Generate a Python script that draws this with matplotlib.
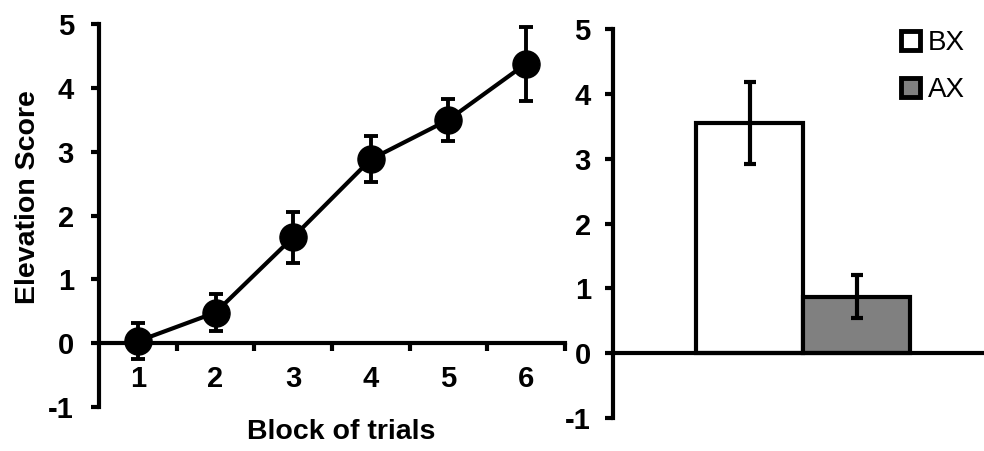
import matplotlib
matplotlib.use("Agg")
import matplotlib.pyplot as plt
from matplotlib.patches import Patch

# ---- data ----
blocks = [1, 2, 3, 4, 5, 6]
block_labels = ["1", "2", "3", "4", "5", "6"]
elev_mean = [0.03, 0.48, 1.66, 2.88, 3.50, 4.38]
elev_err = [0.28, 0.29, 0.40, 0.36, 0.33, 0.58]

bar_cats = ["BX", "AX"]
bar_mean = [3.55, 0.87]
bar_err = [0.63, 0.33]
bar_colors = ["#ffffff", "#808080"]

yticks = [-1, 0, 1, 2, 3, 4, 5]

W, H = 984, 451
fig = plt.figure(figsize=(W / 100, H / 100), dpi=100)
plt.rcParams['font.family'] = ['Liberation Sans', 'DejaVu Sans']

TICK_FS = 21
LABEL_FS = 20.5

def fx(px):
    return px / W

def fy(py):
    return 1 - py / H

# ---- left panel ----
l, r, t, b = 99, 565, 24, 407
ax1 = fig.add_axes([fx(l), fy(b), fx(r) - fx(l), fy(t) - fy(b)])
ax1.errorbar(blocks, elev_mean, yerr=elev_err, color='black', lw=3,
             marker='o', ms=19.5, elinewidth=2.8, capsize=5, capthick=2.8,
             clip_on=False, zorder=3)
ax1.set_xlim(0.5, 6.5)
ax1.set_ylim(-1, 5)
for s in ['top', 'right']:
    ax1.spines[s].set_visible(False)
ax1.spines['bottom'].set_position(('data', 0))
ax1.spines['left'].set_linewidth(3)
ax1.spines['bottom'].set_linewidth(3)
ax1.set_yticks(yticks)
ax1.set_yticklabels([str(v) for v in yticks], fontsize=TICK_FS, fontweight='bold')
ax1.tick_params(axis='y', length=6, width=3, pad=12)
ax1.set_xticks(blocks)
ax1.set_xticklabels(block_labels, fontsize=TICK_FS, fontweight='bold')
ax1.tick_params(axis='x', which='major', length=0, pad=16)
ax1.set_xticks([1.5, 2.5, 3.5, 4.5, 5.5, 6.5], minor=True)
ax1.tick_params(axis='x', which='minor', length=6, width=3, direction='out')
ax1.set_ylabel("Elevation Score", fontsize=LABEL_FS, fontweight='bold')
ax1.yaxis.set_label_coords(-0.153, 0.548)
ax1.set_xlabel("Block of trials", fontsize=LABEL_FS, fontweight='bold')
ax1.xaxis.set_label_coords(0.52, -0.065)
ax1.xaxis.label.set_va('center')
ax1.yaxis.label.set_va('center')

# ---- right panel ----
l2, r2, t2, b2 = 613, 984, 29, 418
ax2 = fig.add_axes([fx(l2), fy(b2), fx(r2) - fx(l2), fy(t2) - fy(b2)])
xpos = [0, 1]
ax2.bar(xpos, bar_mean, width=1.0, color=bar_colors, edgecolor='black',
        linewidth=3, zorder=2)
ax2.errorbar(xpos, bar_mean, yerr=bar_err, fmt='none', ecolor='black',
             elinewidth=3, capsize=4, capthick=3, zorder=3)
ax2.set_xlim(-1.28, 2.19)
ax2.set_ylim(-1, 5)
for s in ['top', 'right']:
    ax2.spines[s].set_visible(False)
ax2.spines['bottom'].set_position(('data', 0))
ax2.spines['left'].set_linewidth(3)
ax2.spines['bottom'].set_linewidth(3)
ax2.set_yticks(yticks)
ax2.set_yticklabels([str(v) for v in yticks], fontsize=TICK_FS, fontweight='bold')
ax2.tick_params(axis='y', length=6, width=3, pad=10)
ax2.set_xticks([])

handles = [Patch(facecolor=c, edgecolor='black', linewidth=3.5, label=n)
           for c, n in zip(bar_colors, bar_cats)]
fig.legend(handles=handles, loc='upper left',
           bbox_to_anchor=(fx(901), fy(30)), frameon=False,
           prop={'family': 'Liberation Sans', 'size': 20},
           handlelength=0.68, handleheight=0.68, handletextpad=0.3,
           labelspacing=0.75, borderpad=0, borderaxespad=0)

fig.savefig("out.png", dpi=100)
